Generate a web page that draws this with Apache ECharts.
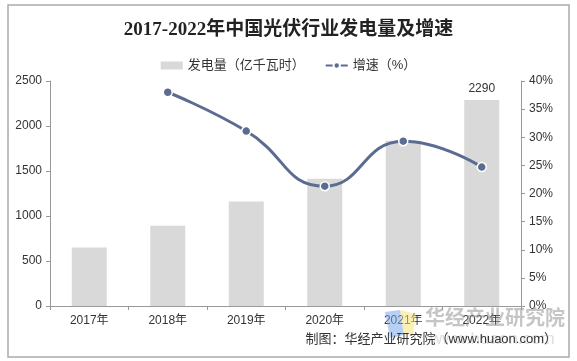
<!DOCTYPE html>
<html><head><meta charset="utf-8">
<script src="https://cdn.jsdelivr.net/npm/echarts@6/dist/echarts.min.js"></script>
<style>html,body{margin:0;padding:0;background:#fff}#c{width:577px;height:361px}</style>
</head><body><div id="c"></div>
<script>
const categories = ['2017年','2018年','2019年','2020年','2021年','2022年'];
const generation = [650, 893, 1160, 1415, 1835, 2290];
const growth = [null, 38.0, 31.1, 21.3, 29.3, 24.7];
const leftTicks = [0, 500, 1000, 1500, 2000, 2500];
const rightTicks = [0, 5, 10, 15, 20, 25, 30, 35, 40];

const chart = echarts.init(document.getElementById('c'));
const font = "'Liberation Sans','Noto Sans CJK SC',sans-serif";
chart.setOption({
  animation: false,
  title: {
    text: '2017-2022年中国光伏行业发电量及增速',
    left: 'center', top: 16,
    textStyle: {fontFamily: "'Liberation Serif','Noto Sans CJK SC',serif", fontWeight: 'bold', fontSize: 19, color: '#222'}
  },
  legend: {
    top: 54, left: 'center', itemGap: 20,
    textStyle: {fontFamily: font, fontSize: 13, color: '#333'},
    data: [
      {name: '发电量（亿千瓦时）', icon: 'rect', itemStyle: {color: '#d9d9d9'}},
      {name: '增速（%）'}
    ],
    itemWidth: 22, itemHeight: 8
  },
  grid: {left: 50, right: 56, top: 81, bottom: 55},
  xAxis: {
    type: 'category', data: categories,
    axisLine: {lineStyle: {color: '#999'}},
    axisTick: {show: true, alignWithLabel: false, length: 4, lineStyle: {color: '#999'}},
    axisLabel: {fontFamily: font, fontSize: 12, color: '#333', margin: 9}
  },
  yAxis: [
    {type: 'value', min: 0, max: 2500, interval: 500,
     axisLine: {show: true, lineStyle: {color: '#999'}},
     axisTick: {show: true, length: 4, lineStyle: {color: '#999'}},
     splitLine: {show: false},
     axisLabel: {fontFamily: font, fontSize: 12, color: '#333', margin: 8,
       formatter: v => leftTicks.includes(v) ? String(v) : ''}},
    {type: 'value', min: 0, max: 40, interval: 5,
     axisLine: {show: true, lineStyle: {color: '#999'}},
     axisTick: {show: true, length: 4, lineStyle: {color: '#999'}},
     splitLine: {show: false},
     axisLabel: {fontFamily: font, fontSize: 12, color: '#333', margin: 8,
       formatter: v => rightTicks.includes(v) ? v + '%' : ''}}
  ],
  series: [
    {name: '发电量（亿千瓦时）', type: 'bar', data: generation, barWidth: 35,
     itemStyle: {color: '#d9d9d9'},
     label: {show: true, position: 'top', fontFamily: font, fontSize: 12, color: '#333',
       formatter: p => p.dataIndex === generation.length - 1 ? String(p.value) : ''}},
    {name: '增速（%）', type: 'line', yAxisIndex: 1, data: growth, smooth: 0.5,
     symbol: 'circle', symbolSize: 9, connectNulls: false,
     lineStyle: {color: '#5b6c93', width: 3},
     itemStyle: {color: '#5b6c93', borderColor: '#fff', borderWidth: 1.5}}
  ],
  graphic: [
    {type: 'rect', shape: {x: 8, y: 5, width: 561, height: 352},
     style: {fill: 'none', stroke: '#aaa', lineWidth: 1.5}, z: -1},
    {type: 'polygon', shape: {points: [[385,312],[400,310],[404,335],[390,338]]},
     style: {fill: 'rgba(120,170,235,0.55)'}, z: 10},
    {type: 'polygon', shape: {points: [[400,310],[416,314],[413,334],[404,335]]},
     style: {fill: 'rgba(250,225,120,0.55)'}, z: 10},
    {type: 'text', left: 425, top: 307,
     style: {text: '华经产业研究院', fontFamily: "'Noto Sans CJK SC',sans-serif", fontWeight: 'bold', fontSize: 20, fill: 'rgba(150,150,150,0.55)'}, z: 10},
    {type: 'text', left: 430, top: 331,
     style: {text: 'www.huaon.com', fontFamily: font, fontSize: 17, fill: 'rgba(170,170,170,0.4)'}, z: 10},
    {type: 'text', right: 20, top: 333,
     style: {text: '制图：华经产业研究院（www.huaon.com）', fontFamily: font, fontSize: 13, fill: '#333'}, z: 11}
  ]
});
</script></body></html>
